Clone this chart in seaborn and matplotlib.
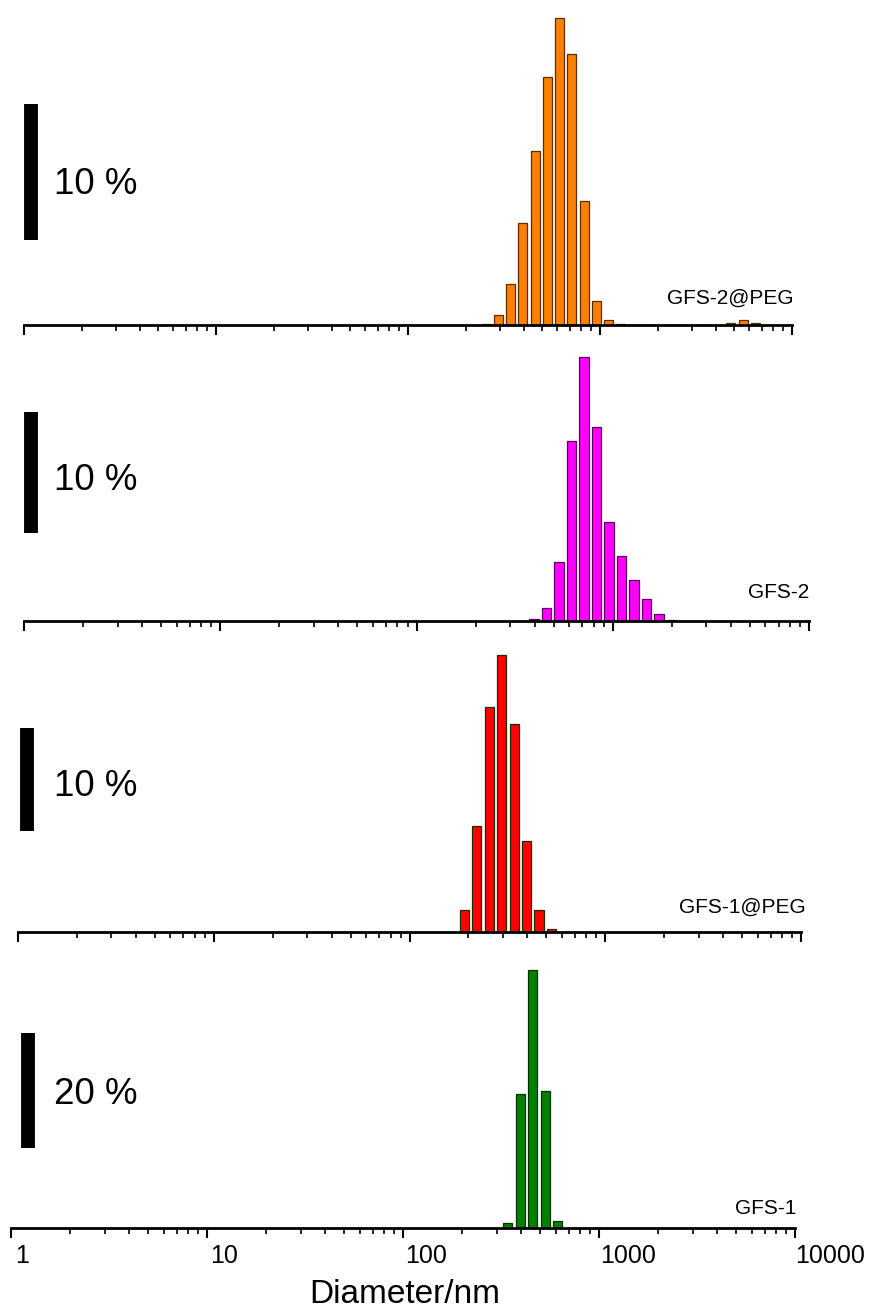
import numpy as np
import pandas as pd
import matplotlib
matplotlib.use('Agg')
import matplotlib.pyplot as plt
from matplotlib.transforms import blended_transform_factory
import seaborn as sns

# size classes (nm) and intensity (%)
gfs2_peg_size = [255.0, 295.3, 342.0, 396.1, 458.7, 531.2, 615.1, 712.4, 825.0, 955.4, 1106, 1281, 4801, 5560, 6439]
gfs2_peg_pct = [0.1, 0.74, 3.0, 7.5, 12.8, 18.2, 22.6, 19.9, 9.1, 1.8, 0.4, 0.1, 0.12, 0.35, 0.15]

gfs2_size = [396.1, 458.7, 531.2, 615.1, 712.4, 825.0, 955.4, 1106, 1281, 1484, 1718, 1990]
gfs2_pct = [0.14, 1.1, 4.9, 14.9, 21.8, 16.0, 8.2, 5.4, 3.4, 1.8, 0.6, 0.08]

gfs1_peg_size = [190.1, 220.2, 255.0, 295.3, 342.0, 396.1, 458.7, 531.2]
gfs1_peg_pct = [2.1, 10.3, 21.8, 26.9, 20.2, 8.8, 2.1, 0.3]

gfs1_size = [342.0, 396.1, 458.7, 531.2, 615.1]
gfs1_pct = [0.93, 23.4, 45.1, 24.0, 1.3]

names = ['GFS-2@PEG', 'GFS-2', 'GFS-1@PEG', 'GFS-1']
scale_pct = [10, 10, 10, 20]
tick_vals = [1, 10, 100, 1000, 10000]
tick_text = ['1', '10', '100', '1000', '10000']

sns.set_style('white')
plt.rcParams['font.family'] = ['Liberation Sans', 'DejaVu Sans']
plt.rcParams['text.color'] = 'black'

W, H = 883, 1310
fig = plt.figure(figsize=(W / 100, H / 100), dpi=100)

# log-spaced size classes of the instrument
BIN = np.log10(10000 / 0.4) / 69

# layout in pixels: left, right, axis y, top, px per %, scale bar x, bar bottom (%), text baseline, label x, label baseline
panels = [
    dict(size=gfs2_peg_size, pct=gfs2_peg_pct, color='#FF8000', edge='#5a2d00',
         left=24, right=792, base=325, top=0, ppp=13.6, sbx=30.5, sb0=6.25, tb=194, lx=793, lb=304),
    dict(size=gfs2_size, pct=gfs2_pct, color='#FF00FF', edge='#5a005a',
         left=24, right=809, base=621, top=330, ppp=12.1, sbx=30.8, sb0=7.3, tb=490, lx=809, lb=598),
    dict(size=gfs1_peg_size, pct=gfs1_peg_pct, color='#FF0000', edge='#1f2a00',
         left=18, right=801, base=932, top=640, ppp=10.3, sbx=26.8, sb0=9.83, tb=796, lx=806, lb=913),
    dict(size=gfs1_size, pct=gfs1_pct, color='#008000', edge='#003300',
         left=11, right=795, base=1228, top=950, ppp=5.725, sbx=27.8, sb0=14.0, tb=1104, lx=796, lb=1214),
]

for p, name, sp in zip(panels, names, scale_pct):
    hpx = p['base'] - p['top']
    ax = fig.add_axes([p['left'] / W, 1 - p['base'] / H, (p['right'] - p['left']) / W, hpx / H])
    lo = np.log10(p['size'][0]) - BIN / 2
    n = int(round((np.log10(p['size'][-1]) - np.log10(p['size'][0])) / BIN)) + 1
    edges = [float(lo + BIN * i) for i in range(n + 1)]
    df = pd.DataFrame({'size': p['size'], 'pct': p['pct']})
    sns.histplot(data=df, x='size', weights='pct', bins=edges, log_scale=True, shrink=0.74,
                 color=p['color'], edgecolor=p['edge'], linewidth=0.9, alpha=1, ax=ax)
    ax.set_xlim(1, 10000)
    ax.set_ylim(0, hpx / p['ppp'])
    ax.set_xlabel('')
    ax.set_ylabel('')
    for s in ['top', 'right', 'left']:
        ax.spines[s].set_visible(False)
    ax.spines['bottom'].set_linewidth(2)
    ax.spines['bottom'].set_color('black')
    ax.tick_params(axis='x', which='both', direction='out', bottom=True, labelbottom=False, color='black')
    ax.tick_params(axis='x', which='major', length=7, width=1.5)
    ax.tick_params(axis='x', which='minor', length=4, width=1.2)
    ax.set_yticks([])
    ax.patch.set_alpha(0)

    # scale bar
    xa = (p['sbx'] - p['left']) / (p['right'] - p['left'])
    ax.plot([xa, xa], [p['sb0'], p['sb0'] + sp], transform=ax.get_yaxis_transform(),
            color='black', lw=10, solid_capstyle='butt', clip_on=False)
    fig.text(54 / W, 1 - p['tb'] / H, f'{sp} %', fontsize=26.5, ha='left', va='baseline', color='black')
    fig.text(p['lx'] / W, 1 - p['lb'] / H, name, fontsize=15, ha='right', va='baseline', color='black')

# shared tick labels on their own log scale
lab = fig.add_axes([22 / W, 1 - 1228 / H, 808 / W, 0.001])
lab.set_xscale('log')
lab.set_xlim(1, 10000)
lab.axis('off')
tr = blended_transform_factory(lab.transData, fig.transFigure)
for v, t in zip(tick_vals, tick_text):
    lab.text(v, 1 - 1263 / H, t, transform=tr, fontsize=18, ha='center', va='baseline', color='black')

fig.text(405 / W, 1 - 1303 / H, 'Diameter/nm', fontsize=24, ha='center', va='baseline', color='black')

fig.savefig('out.png', dpi=100)
